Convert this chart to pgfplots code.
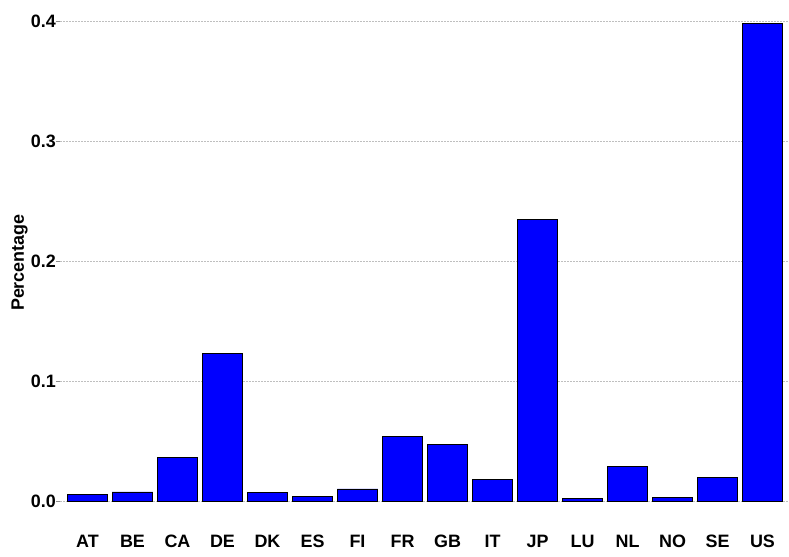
\documentclass[border=0pt]{standalone}
\usepackage{pgfplots}
\pgfplotsset{compat=1.18}
\usepackage{fontspec}
\setmainfont{Liberation Sans}
\begin{document}
\begin{tikzpicture}
\path[use as bounding box] (-60.5bp,-30.4bp) rectangle (728.5bp,525.7bp);
\begin{axis}[
  scale only axis,
  width=729bp, height=526.2bp,
  xmin=-0.6, xmax=15.6,
  ymin=-0.019935, ymax=0.418535,
  axis line style={draw=none},
  xtick={0,1,...,15},
  xticklabels={AT,BE,CA,DE,DK,ES,FI,FR,GB,IT,JP,LU,NL,NO,SE,US},
  ytick={0,0.1,0.2,0.3,0.4},
  yticklabels={0.0,0.1,0.2,0.3,0.4},
  xtick style={draw=none},
  ytick style={draw=black!45, line width=0.6bp},
  ytick pos=left,
  tick align=outside,
  major tick length=4.5bp,
  ymajorgrids,
  grid style={black!25, line width=0.6bp, dash pattern=on 1.5bp off 1.5bp},
  /pgf/number format/assume math mode=true,
  xticklabel style={font=\fontsize{18}{21}\selectfont\bfseries, anchor=base, inner sep=0pt, yshift=-17.5bp},
  yticklabel style={font=\fontsize{18}{21}\selectfont\bfseries, anchor=east, inner sep=0pt},
  ylabel={Percentage},
  every axis y label/.style={at={(axis description cs:0,0.5)}, rotate=90, anchor=base, yshift=36.5bp, font=\fontsize{18}{21}\selectfont\bfseries},
]
\addplot[ybar, bar width=40.5bp, fill={rgb,255:red,0;green,0;blue,255}, draw=black, line width=0.6bp]
coordinates {
(0,0.0062) (1,0.0083) (2,0.0370) (3,0.1239) (4,0.0078) (5,0.0042) (6,0.0108) (7,0.0548)
(8,0.0478) (9,0.0189) (10,0.2355) (11,0.0025) (12,0.0298) (13,0.0037) (14,0.0206) (15,0.3987)
};
\end{axis}
\end{tikzpicture}
\end{document}
